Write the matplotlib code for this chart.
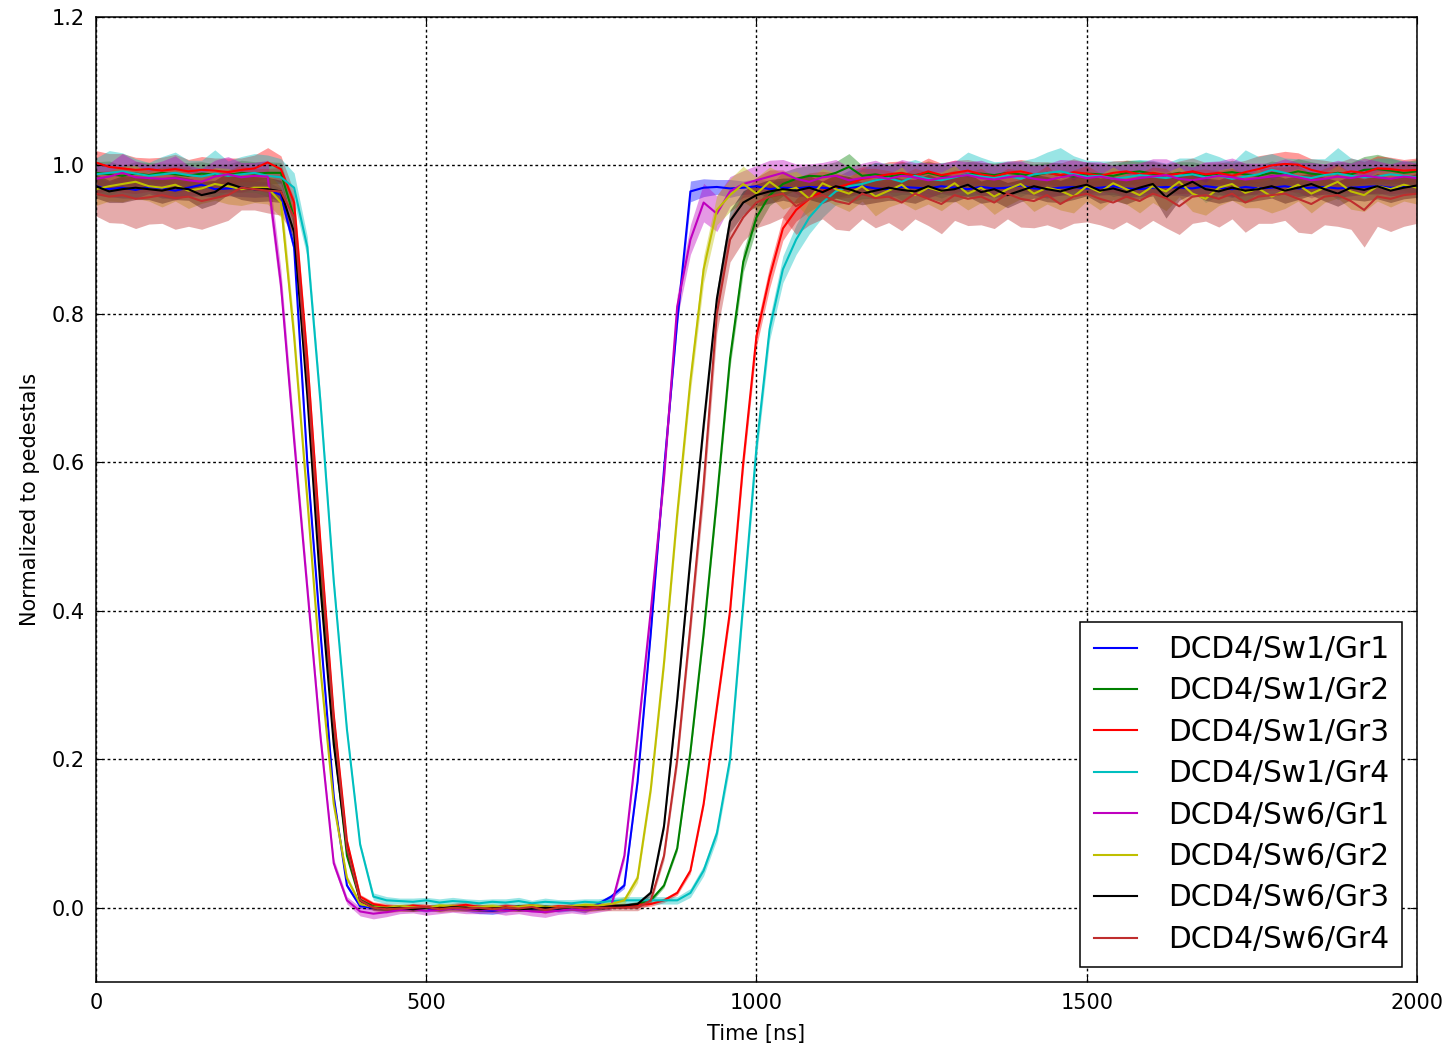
import matplotlib

matplotlib.use("Agg")
import matplotlib.pyplot as plt
import numpy as np

# sampling grid of the scope traces [ns]
time_step_ns = 20
time_ns = np.arange(0, 2000 + time_step_ns, time_step_ns)

labels = [
    "DCD4/Sw1/Gr1", "DCD4/Sw1/Gr2", "DCD4/Sw1/Gr3", "DCD4/Sw1/Gr4",
    "DCD4/Sw6/Gr1", "DCD4/Sw6/Gr2", "DCD4/Sw6/Gr3", "DCD4/Sw6/Gr4",
]
colors = ["b", "g", "r", "c", "m", "y", "k", "#bf2e2e"]

# mean normalized signal, in units of 1e-3
sw1_gr1 = [
    972, 968, 970, 967, 971, 969, 966, 970, 974, 968,
    969, 970, 968, 968, 960, 890, 600, 370, 150, 30,
    2, 0, -1, 1, 0, -2, 0, 1, -1, -3,
    -4, -2, 1, -1, 0, -2, 1, -3, 5, 15,
    30, 170, 370, 590, 790, 965, 970, 971, 969, 970,
    972, 968, 970, 969, 971, 970, 968, 970, 972, 969,
    968, 971, 970, 969, 972, 970, 968, 971, 969, 970,
    973, 969, 968, 970, 971, 969, 970, 972, 969, 968,
    970, 971, 970, 969, 972, 970, 968, 971, 969, 970,
    972, 969, 970, 971, 969, 970, 971, 972, 970, 971,
    972,
]
sw1_gr2 = [
    990, 988, 986, 989, 987, 990, 988, 986, 989, 988,
    987, 990, 989, 990, 990, 930, 710, 450, 230, 70,
    10, 2, 0, 1, -1, 0, 2, 0, -1, 1,
    0, -1, 2, 0, 1, -1, 0, 1, 0, 2,
    2, 5, 10, 30, 80, 210, 370, 550, 740, 870,
    930, 960, 975, 982, 986, 985, 990, 998, 986, 988,
    985, 988, 987, 990, 986, 984, 988, 989, 987, 990,
    988, 986, 990, 987, 985, 989, 988, 986, 990, 992,
    989, 987, 990, 988, 986, 989, 991, 988, 986, 990,
    988, 992, 989, 987, 990, 988, 994, 995, 993, 990,
    992,
]
sw1_gr3 = [
    1004, 998, 996, 994, 995, 993, 995, 992, 994, 993,
    991, 994, 996, 1004, 995, 950, 740, 490, 260, 90,
    15, 5, 2, 0, 3, 1, 0, 2, 4, 1,
    0, 2, 1, 3, 0, 2, 1, 0, 2, 3,
    2, 4, 5, 10, 20, 50, 140, 270, 400, 600,
    770, 850, 915, 940, 955, 965, 970, 975, 982, 985,
    988, 990, 986, 992, 987, 990, 993, 988, 985, 990,
    992, 988, 990, 987, 991, 989, 986, 990, 992, 988,
    990, 987, 989, 992, 988, 990, 986, 991, 995, 1000,
    1002, 1001, 994, 990, 988, 992, 990, 996, 995, 993,
    994,
]
sw1_gr4 = [
    988, 990, 992, 989, 986, 988, 990, 987, 985, 989,
    986, 988, 990, 986, 984, 970, 890, 680, 440, 240,
    85, 15, 10, 9, 8, 10, 7, 9, 8, 6,
    8, 7, 9, 6, 8, 7, 6, 8, 7, 9,
    10, 10, 10, 10, 10, 20, 50, 100, 200, 410,
    620, 780, 860, 900, 930, 950, 965, 972, 975, 980,
    983, 978, 986, 982, 980, 984, 988, 985, 983, 986,
    982, 988, 990, 992, 988, 985, 986, 982, 984, 987,
    985, 983, 986, 988, 984, 986, 982, 985, 988, 994,
    990, 985, 983, 987, 989, 986, 984, 985, 988, 986,
    984,
]
sw6_gr1 = [
    982, 985, 990, 984, 983, 982, 983, 980, 978, 985,
    988, 984, 986, 985, 840, 630, 430, 230, 60, 10,
    -5, -8, -6, -3, -2, -4, -3, -1, -2, -3,
    -2, -4, -3, -5, -6, -4, -2, -3, -1, 2,
    70, 230, 400, 580, 810, 900, 950, 935, 965, 975,
    980, 985, 990, 982, 978, 984, 986, 980, 983, 985,
    982, 986, 984, 980, 983, 985, 987, 983, 981, 984,
    986, 982, 980, 984, 987, 983, 985, 982, 980, 983,
    985, 987, 982, 980, 983, 986, 984, 981, 983, 985,
    987, 984, 980, 982, 985, 983, 986, 984, 982, 985,
    983,
]
sw6_gr2 = [
    968, 972, 975, 978, 972, 970, 974, 966, 969, 975,
    972, 968, 970, 970, 950, 770, 550, 320, 140, 40,
    5, 1, 0, 2, 1, -1, 3, 2, 0, 1,
    2, 0, 1, 3, 1, 0, 2, 4, 3, 5,
    10, 40, 160, 330, 530, 710, 860, 940, 960, 975,
    962, 978, 965, 970, 955, 976, 968, 962, 972, 958,
    966, 974, 960, 970, 965, 976, 962, 970, 958, 968,
    975, 962, 970, 966, 958, 972, 964, 976, 968, 960,
    972, 965, 978, 962, 955, 970, 975, 963, 969, 958,
    966, 974, 962, 970, 978, 965, 960, 972, 968, 974,
    970,
]
sw6_gr3 = [
    972, 965, 968, 970, 968, 966, 970, 968, 960, 964,
    976, 970, 968, 968, 965, 910, 690, 430, 220, 80,
    10, 0, -1, 0, -2, 0, -1, 1, 0, -2,
    -1, 0, -2, -1, 0, -1, 1, 0, 0, 2,
    3, 5, 20, 110, 280, 470, 650, 820, 925, 950,
    960, 965, 968, 966, 970, 964, 972, 968, 962, 966,
    970, 967, 965, 972, 966, 968, 974, 964, 968, 960,
    966, 972, 968, 965, 970, 974, 966, 969, 964, 970,
    975, 957, 970, 978, 968, 965, 970, 966, 968, 972,
    966, 970, 975, 968, 962, 970, 967, 972, 966, 970,
    973,
]
sw6_gr4 = [
    962, 958, 960, 955, 957, 960, 956, 958, 952, 956,
    960, 970, 968, 966, 965, 930, 720, 470, 250, 80,
    10, 0, -2, -1, 0, 1, -2, 0, -1, 0,
    -2, 0, -1, 1, -3, 0, 1, -1, 0, 0,
    0, 0, 10, 70, 200, 380, 570, 800, 900, 930,
    950, 958, 962, 945, 955, 960, 952, 948, 962, 956,
    958, 950, 962, 955, 948, 960, 955, 958, 950, 962,
    955, 952, 960, 948, 958, 962, 955, 950, 958, 952,
    962, 956, 945, 958, 960, 955, 962, 950, 958, 960,
    962, 955, 948, 958, 960, 952, 940, 958, 955, 960,
    962,
]

# half width of the shaded spread band, in units of 1e-3
sw1_gr1_err = [
    12, 10, 14, 11, 9, 13, 10, 12, 15, 11,
    10, 12, 11, 10, 9, 9, 7, 6, 4, 3,
    3, 3, 4, 3, 3, 4, 3, 3, 4, 5,
    5, 4, 3, 4, 3, 4, 5, 4, 3, 3,
    4, 5, 6, 8, 9, 14, 12, 10, 12, 9,
    10, 11, 9, 12, 10, 9, 11, 10, 12, 9,
    11, 10, 9, 12, 10, 11, 9, 10, 12, 11,
    10, 9, 12, 10, 11, 9, 10, 11, 12, 10,
    9, 11, 10, 12, 10, 9, 11, 10, 9, 12,
    10, 11, 9, 10, 12, 11, 10, 9, 11, 10,
    11,
]
sw1_gr2_err = [
    15, 18, 14, 16, 17, 13, 15, 18, 16, 14,
    15, 17, 16, 15, 14, 13, 10, 8, 5, 3,
    3, 3, 4, 3, 3, 4, 3, 4, 3, 3,
    4, 3, 3, 4, 3, 3, 4, 3, 3, 3,
    3, 3, 3, 3, 4, 6, 8, 10, 12, 14,
    15, 14, 16, 15, 14, 16, 15, 18, 14, 16,
    15, 17, 14, 16, 15, 14, 17, 15, 16, 14,
    15, 16, 14, 17, 15, 16, 14, 15, 17, 15,
    16, 14, 15, 17, 15, 14, 16, 15, 14, 16,
    15, 17, 16, 14, 15, 16, 18, 20, 17, 15,
    16,
]
sw1_gr3_err = [
    16, 18, 20, 17, 15, 18, 20, 16, 18, 17,
    19, 16, 18, 20, 18, 14, 11, 8, 5, 3,
    3, 3, 4, 4, 3, 4, 3, 4, 5, 4,
    3, 4, 3, 4, 4, 3, 4, 3, 4, 3,
    3, 3, 3, 3, 3, 4, 5, 7, 9, 12,
    14, 15, 16, 15, 17, 16, 15, 18, 16, 15,
    17, 16, 15, 18, 16, 17, 15, 16, 18, 15,
    16, 17, 15, 16, 18, 15, 17, 16, 15, 17,
    16, 15, 17, 18, 16, 15, 17, 16, 18, 16,
    17, 16, 15, 17, 16, 18, 15, 17, 16, 15,
    16,
]
sw1_gr4_err = [
    22, 30, 25, 20, 18, 24, 28, 20, 22, 32,
    20, 24, 26, 28, 25, 20, 14, 10, 7, 5,
    4, 5, 5, 4, 5, 4, 5, 5, 4, 5,
    4, 5, 5, 4, 5, 4, 5, 4, 5, 5,
    5, 5, 5, 5, 5, 6, 7, 8, 10, 12,
    14, 15, 18, 20, 22, 20, 18, 22, 20, 24,
    20, 25, 22, 20, 24, 21, 30, 26, 22, 20,
    24, 22, 28, 32, 25, 22, 20, 24, 22, 21,
    22, 20, 24, 22, 34, 26, 22, 36, 24, 22,
    20, 24, 26, 22, 35, 24, 22, 25, 22, 20,
    22,
]
sw6_gr1_err = [
    20, 18, 26, 22, 18, 24, 30, 20, 18, 22,
    24, 20, 18, 22, 20, 16, 12, 8, 6, 5,
    6, 7, 6, 5, 5, 6, 5, 5, 6, 5,
    5, 6, 5, 6, 7, 5, 5, 6, 5, 5,
    6, 8, 10, 12, 16, 20, 26, 24, 20, 18,
    20, 22, 18, 20, 24, 20, 22, 18, 20, 22,
    18, 22, 20, 24, 20, 22, 18, 24, 20, 22,
    20, 18, 22, 24, 20, 22, 20, 18, 22, 20,
    24, 22, 20, 18, 22, 20, 26, 22, 20, 18,
    22, 20, 24, 20, 22, 20, 24, 22, 20, 22,
    20,
]
sw6_gr2_err = [
    22, 20, 24, 22, 20, 26, 22, 24, 20, 22,
    24, 22, 20, 22, 20, 16, 12, 9, 6, 4,
    3, 3, 4, 3, 4, 3, 3, 4, 3, 3,
    4, 3, 3, 4, 3, 4, 3, 3, 4, 4,
    5, 6, 8, 10, 12, 15, 18, 20, 22, 24,
    22, 20, 24, 22, 26, 20, 22, 24, 20, 26,
    22, 24, 20, 22, 26, 24, 22, 20, 24, 22,
    20, 24, 22, 26, 22, 20, 24, 22, 20, 24,
    22, 26, 20, 24, 22, 24, 22, 20, 26, 22,
    24, 22, 26, 20, 22, 24, 22, 20, 24, 22,
    22,
]
sw6_gr3_err = [
    16, 15, 18, 16, 14, 17, 16, 15, 18, 16,
    15, 16, 17, 16, 15, 13, 10, 8, 5, 4,
    3, 3, 3, 4, 3, 3, 4, 3, 3, 3,
    4, 3, 3, 3, 4, 3, 3, 4, 3, 3,
    3, 3, 4, 5, 7, 9, 11, 13, 15, 16,
    15, 16, 15, 17, 16, 15, 16, 17, 15, 16,
    17, 15, 16, 16, 15, 17, 16, 15, 16, 17,
    15, 16, 17, 15, 16, 15, 17, 16, 16, 15,
    16, 28, 17, 16, 15, 16, 17, 16, 15, 16,
    17, 16, 15, 16, 17, 16, 15, 17, 16, 15,
    16,
]
sw6_gr4_err = [
    30, 35, 38, 40, 36, 38, 42, 40, 38, 36,
    34, 30, 28, 30, 32, 26, 18, 12, 8, 5,
    4, 4, 5, 4, 5, 4, 4, 5, 4, 5,
    4, 5, 4, 4, 5, 4, 4, 5, 4, 4,
    4, 4, 5, 6, 10, 14, 20, 26, 30, 32,
    34, 36, 32, 38, 35, 32, 38, 36, 34, 40,
    35, 38, 34, 36, 40, 34, 36, 38, 35, 34,
    38, 36, 40, 34, 36, 38, 35, 36, 34, 38,
    36, 40, 38, 36, 35, 38, 34, 40, 36, 38,
    36, 45, 40, 38, 42, 38, 50, 40, 44, 42,
    40,
]

means = [sw1_gr1, sw1_gr2, sw1_gr3, sw1_gr4, sw6_gr1, sw6_gr2, sw6_gr3, sw6_gr4]
spreads = [sw1_gr1_err, sw1_gr2_err, sw1_gr3_err, sw1_gr4_err,
           sw6_gr1_err, sw6_gr2_err, sw6_gr3_err, sw6_gr4_err]

plt.rcParams.update({
    "font.family": "DejaVu Sans",
    "font.size": 15,
    "xtick.direction": "in",
    "ytick.direction": "in",
    "xtick.top": True,
    "ytick.right": True,
    "xtick.major.size": 5,
    "ytick.major.size": 5,
    "axes.linewidth": 1.1,
})

fig = plt.figure(figsize=(14.56, 10.47), dpi=100, facecolor="white")
ax = fig.add_axes([0.0659, 0.0621, 0.9073, 0.9217])

for label, color, mean, spread in zip(labels, colors, means, spreads):
    y = np.asarray(mean) / 1000.0
    err = np.asarray(spread) / 1000.0
    ax.fill_between(time_ns, y - err, y + err, color=color, alpha=0.4, linewidth=0)
    ax.plot(time_ns, y, color=color, linewidth=1.5, label=label)

ax.set_xlim(0, 2000)
ax.set_ylim(-0.1, 1.2)
ax.set_xticks([0, 500, 1000, 1500, 2000])
ax.set_yticks([0.0, 0.2, 0.4, 0.6, 0.8, 1.0, 1.2])
ax.tick_params(labelsize=15, pad=8)
ax.grid(True, color="k", linestyle=(0, (2, 2)), linewidth=1.0)
ax.set_xlabel("Time [ns]", fontsize=15, labelpad=8)
ax.set_ylabel("Normalized to pedestals", fontsize=15, labelpad=8)

leg = ax.legend(loc="lower right", fontsize=21.3, handlelength=1.45,
                handletextpad=1.05, labelspacing=0.42, fancybox=False,
                framealpha=1.0, edgecolor="k", borderpad=0.45,
                borderaxespad=0.5)
leg.get_frame().set_linewidth(1.1)

fig.savefig("out.png", dpi=100, facecolor="white")
